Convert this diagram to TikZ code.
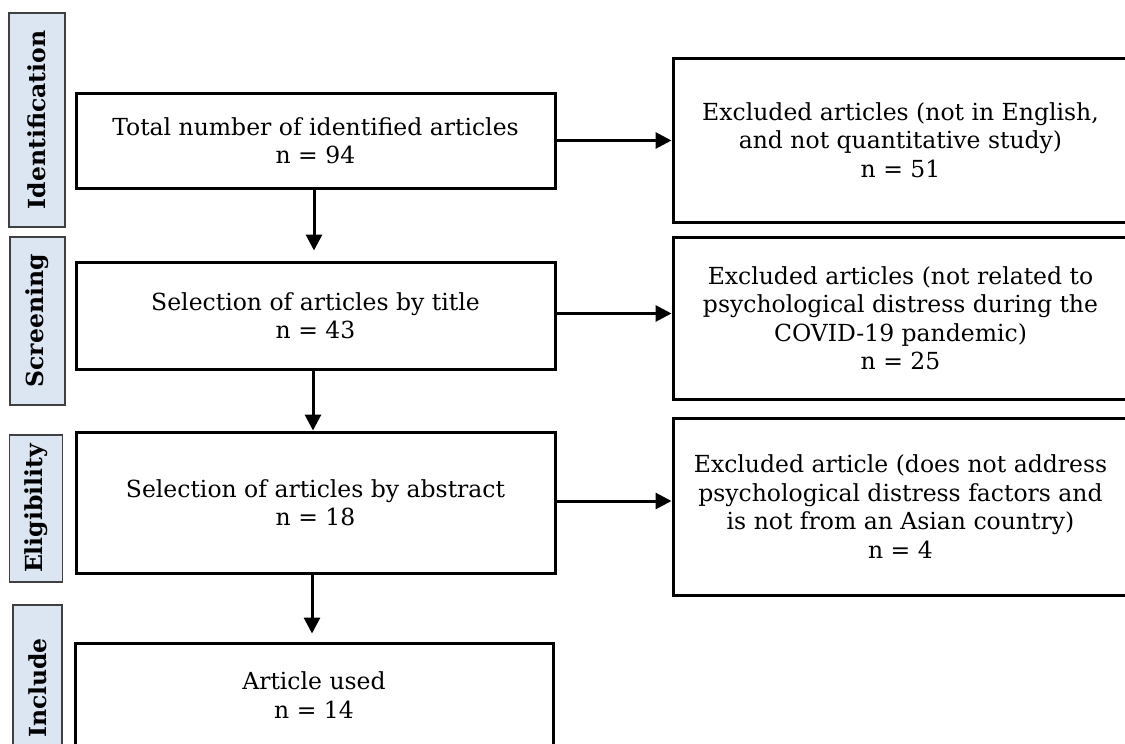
\documentclass[tikz,border=0pt]{standalone}
\usepackage{fontspec}
\setmainfont{DejaVu Serif}
\usetikzlibrary{arrows.meta}
\definecolor{sidefill}{HTML}{DCE6F2}
\definecolor{sideline}{HTML}{404040}
\tikzset{
  mainbox/.style={draw=black, line width=3pt, rectangle, align=center, inner sep=0pt,
    font=\fontsize{23.5}{28.5}\selectfont},
  sidebox/.style={draw=sideline, fill=sidefill, line width=1.5pt, rectangle, rotate=90,
    inner sep=0pt, font=\fontsize{23.5}{26}\selectfont\bfseries},
  flow/.style={line width=3pt, -{Triangle[length=16pt,width=16pt]}}
}
\begin{document}
\begin{tikzpicture}[x=1pt,y=-1pt]
\useasboundingbox (0,0) rectangle (1125,744);
\clip (0,0) rectangle (1125,744);
% side labels
\node[sidebox, minimum width=214pt, minimum height=56pt] (sid) at (37,120) {Identification};
\node[sidebox, minimum width=168pt, minimum height=55pt] (ssc) at (37.5,321) {Screening};
\node[sidebox, minimum width=147pt, minimum height=53pt] (sel) at (36,508.5) {Eligibility};
\node[sidebox, minimum width=166pt, minimum height=49pt] (sin) at (37.5,688) {Include};
% main boxes
\node[mainbox, minimum width=479pt, minimum height=95pt] (b1) at (315.5,140.5)
  {Total number of identified articles\\n = 94};
\node[mainbox, minimum width=479pt, minimum height=107pt] (b2) at (315.5,315.5)
  {Selection of articles by title\\n = 43};
\node[mainbox, minimum width=479pt, minimum height=141pt] (b3) at (315.5,502.5)
  {Selection of articles by abstract\\n = 18};
\node[mainbox, minimum width=478pt, minimum height=104pt] (b4) at (314,695)
  {Article used\\n = 14};
% right boxes
\node[mainbox, minimum width=455pt, minimum height=164pt] (r1) at (900.5,140)
  {Excluded articles (not in English,\\and not quantitative study)\\n = 51};
\node[mainbox, minimum width=455pt, minimum height=162pt] (r2) at (900.5,318)
  {Excluded articles (not related to\\psychological distress during the\\COVID-19 pandemic)\\n = 25};
\node[mainbox, minimum width=455pt, minimum height=177pt] (r3) at (900.5,506.5)
  {Excluded article (does not address\\psychological distress factors and\\is not from an Asian country)\\n = 4};
% horizontal arrows
\draw[flow] (b1.east) -- (b1.east -| r1.west);
\draw[flow] ([yshift=2pt]b2.east) -- ([yshift=2pt]b2.east -| r2.west);
\draw[flow] ([yshift=1.5pt]b3.east) -- ([yshift=1.5pt]b3.east -| r3.west);
% vertical arrows
\draw[flow, shorten >=10pt] ([xshift=-1.5pt]b1.south) -- ([xshift=-1.5pt]b1.south |- b2.north);
\draw[flow] ([xshift=-2.5pt]b2.south) -- ([xshift=-2.5pt]b2.south |- b3.north);
\draw[flow, shorten >=8pt] ([xshift=-3.5pt]b3.south) -- ([xshift=-3.5pt]b3.south |- b4.north);
\end{tikzpicture}
\end{document}
